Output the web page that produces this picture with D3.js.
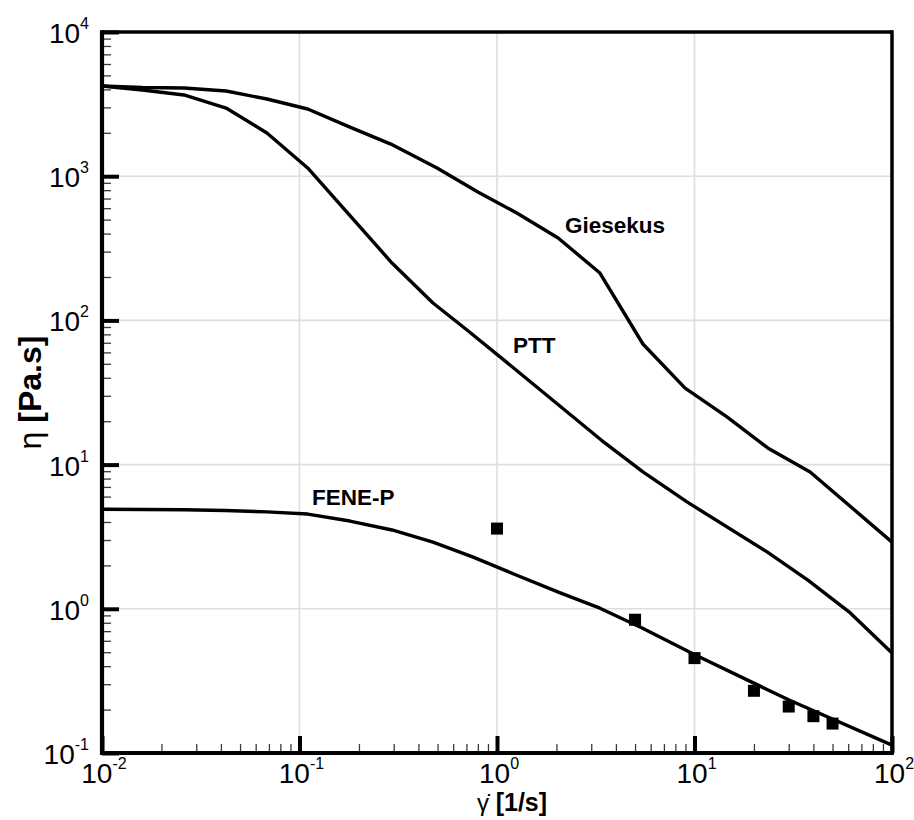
<!DOCTYPE html>
<html>
<head>
<meta charset="utf-8">
<script src="https://cdn.jsdelivr.net/npm/d3@7/dist/d3.min.js"></script>
<style>
  html, body { margin: 0; padding: 0; background: #fff; }
  svg { display: block; font-family: "Liberation Sans", Arial, Helvetica, sans-serif; }
</style>
</head>
<body>
<svg id="chart" width="914" height="820"></svg>
<script>
// Shear-rate sweep: viscosity predictions of three constitutive models
const gieseShear = [0.01, 0.016, 0.026, 0.0425, 0.0684, 0.11, 0.18, 0.29, 0.497, 0.80, 1.26, 2.04, 3.32, 5.48, 8.96, 14.6, 23.6, 38.5, 100];
const gieseEta   = [4225, 4120, 4090, 3900, 3430, 2925, 2190, 1670, 1140, 777, 555, 373, 213, 68.6, 33.9, 21.4, 13.0, 8.89, 2.90];

const pttShear = [0.01, 0.016, 0.026, 0.0425, 0.0684, 0.11, 0.294, 0.474, 0.705, 1.01, 3.37, 5.48, 9.16, 23.3, 37.5, 61.5, 100];
const pttEta   = [4225, 3960, 3660, 2970, 1995, 1140, 250, 132, 85.8, 57.5, 14.8, 8.89, 5.51, 2.48, 1.58, 0.936, 0.493];

const feneShear = [0.01, 0.016, 0.026, 0.042, 0.0684, 0.11, 0.18, 0.294, 0.474, 0.752, 1.26, 2.09, 3.32, 5.43, 10.1, 30.5, 100];
const feneEta   = [4.9, 4.88, 4.86, 4.8, 4.7, 4.54, 4.06, 3.52, 2.90, 2.29, 1.71, 1.29, 1.01, 0.736, 0.478, 0.231, 0.1135];

// Measured viscosity
const expShear = [1, 5, 10, 20, 30, 40, 50];
const expEta   = [3.6, 0.84, 0.455, 0.27, 0.21, 0.18, 0.16];

// Curve labels, anchored in data space
const labelText  = ["Giesekus", "PTT", "FENE-P"];
const labelShear = [2.21, 1.205, 0.1156];
const labelEta   = [404, 59.4, 5.25];

// Axis decades (exponents)
const xDecades = [-2, -1, 0, 1, 2];
const yDecades = [-1, 0, 1, 2, 3, 4];

const svg = d3.select("#chart");
const pLeft = 102, pRight = 892, pTop = 32, pBottom = 753;

const x = d3.scaleLog().domain([1e-2, 1e2]).range([pLeft, pRight]);
const y = d3.scaleLog().domain([1e-1, 1e4]).range([pBottom, pTop]);

// Gridlines at decades
const grid = svg.append("g").attr("stroke", "#dedede").attr("stroke-width", 1.6);
xDecades.forEach(e => grid.append("line")
  .attr("x1", x(10 ** e)).attr("x2", x(10 ** e)).attr("y1", pTop).attr("y2", pBottom));
yDecades.forEach(e => grid.append("line")
  .attr("y1", y(10 ** e)).attr("y2", y(10 ** e)).attr("x1", pLeft).attr("x2", pRight));

// Inward ticks: minor from d3 axes, majors drawn thicker
const minorVals = (lo, hi) => {
  const v = [];
  for (let e = lo; e < hi; e++) for (let m = 2; m <= 9; m++) v.push(m * 10 ** e);
  return v;
};

const xMinor = d3.axisTop(x).tickValues(minorVals(-2, 2)).tickSize(9).tickFormat("");
const yMinor = d3.axisRight(y).tickValues(minorVals(-1, 4)).tickSize(9).tickFormat("");
const xMajor = d3.axisTop(x).tickValues(xDecades.map(e => 10 ** e)).tickSize(17).tickFormat("");
const yMajor = d3.axisRight(y).tickValues(yDecades.map(e => 10 ** e)).tickSize(17).tickFormat("");

function styleAxis(g, color, width) {
  g.select(".domain").remove();
  g.selectAll(".tick line").attr("stroke", color).attr("stroke-width", width);
}
svg.append("g").attr("transform", `translate(0,${pBottom})`).call(xMinor).call(g => styleAxis(g, "#3a3a3a", 1.3));
svg.append("g").attr("transform", `translate(${pLeft},0)`).call(yMinor).call(g => styleAxis(g, "#3a3a3a", 1.3));
svg.append("g").attr("transform", `translate(0,${pBottom})`).call(xMajor).call(g => styleAxis(g, "#000", 4));
svg.append("g").attr("transform", `translate(${pLeft},0)`).call(yMajor).call(g => styleAxis(g, "#000", 4));

// Model curves
const line = d3.line().x(d => x(d[0])).y(d => y(d[1])).curve(d3.curveLinear);
const curves = [
  d3.zip(gieseShear, gieseEta),
  d3.zip(pttShear, pttEta),
  d3.zip(feneShear, feneEta)
];
svg.append("g").selectAll("path").data(curves).join("path")
  .attr("d", line)
  .attr("fill", "none")
  .attr("stroke", "#000")
  .attr("stroke-width", 3.4)
  .attr("stroke-linejoin", "round");

// Measured points as filled squares
const sq = 12;
svg.append("g").selectAll("rect").data(d3.zip(expShear, expEta)).join("rect")
  .attr("x", d => x(d[0]) - sq / 2)
  .attr("y", d => y(d[1]) - sq / 2)
  .attr("width", sq).attr("height", sq)
  .attr("fill", "#000");

// Curve labels
svg.append("g").selectAll("text").data(labelText).join("text")
  .attr("x", (d, i) => x(labelShear[i]))
  .attr("y", (d, i) => y(labelEta[i]))
  .attr("font-size", 22.5)
  .attr("font-weight", "bold")
  .text(d => d);

// Frame
const frame = svg.append("g").attr("stroke", "#000").attr("fill", "none");
frame.append("line").attr("x1", pLeft).attr("x2", pRight).attr("y1", pTop).attr("y2", pTop).attr("stroke-width", 3.5);
frame.append("line").attr("x1", pRight).attr("x2", pRight).attr("y1", pTop - 1.7).attr("y2", pBottom + 2).attr("stroke-width", 3.5);
frame.append("line").attr("x1", pLeft).attr("x2", pLeft).attr("y1", pTop - 1.7).attr("y2", pBottom + 2).attr("stroke-width", 4.2);
frame.append("line").attr("x1", pLeft - 2).attr("x2", pRight + 1.7).attr("y1", pBottom).attr("y2", pBottom).attr("stroke-width", 4.2);

// Power-of-ten tick labels
function powLabel(sel, e) {
  sel.append("tspan").attr("font-size", 28).text("10");
  sel.append("tspan").attr("font-size", 16).attr("dy", -14).text(String(e));
}
svg.append("g").selectAll("text").data(yDecades).join("text")
  .attr("x", 89)
  .attr("y", e => y(10 ** e) + 11)
  .attr("text-anchor", "end")
  .each(function (e) { powLabel(d3.select(this), e); });

svg.append("g").selectAll("text").data(xDecades).join("text")
  .attr("x", e => x(10 ** e) + 2)
  .attr("y", 783)
  .attr("text-anchor", "middle")
  .each(function (e) { powLabel(d3.select(this), e); });

// Axis titles
const xt = svg.append("text").attr("x", 477).attr("y", 811).attr("font-size", 24);
xt.append("tspan").text("\u03B3\u0307 ");
xt.append("tspan").attr("font-weight", "bold").attr("font-size", 25).text("[1/s]");

const yt = svg.append("text")
  .attr("transform", `translate(41,${(pTop + pBottom) / 2}) rotate(-90)`)
  .attr("text-anchor", "middle")
  .attr("font-size", 32);
yt.append("tspan").text("\u03B7 ");
yt.append("tspan").attr("font-weight", "bold").text("[Pa.s]");
</script>
</body>
</html>
